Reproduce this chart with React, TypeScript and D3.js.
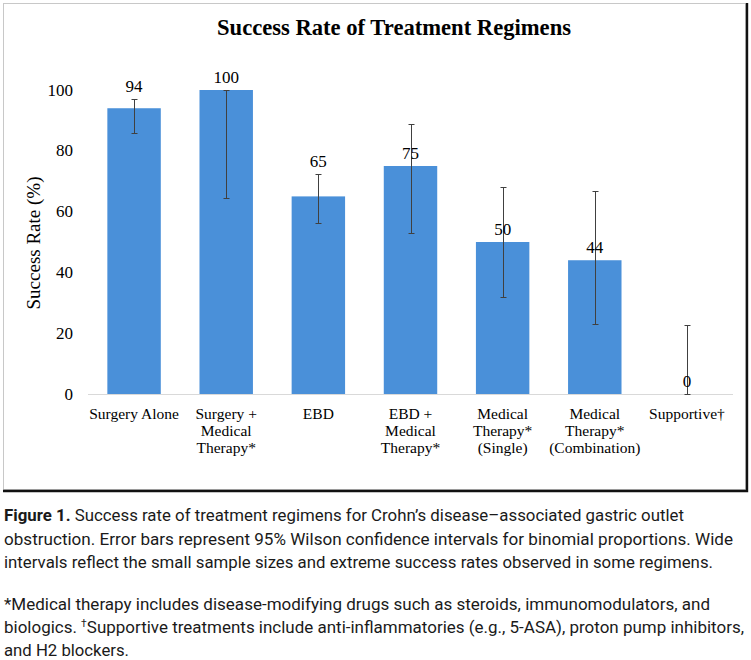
import React, { useRef, useEffect } from 'react';
import * as d3 from 'd3';

// success rate per regimen (%), with 95% Wilson interval bounds
const regimens = [
  "Surgery Alone",
  "Surgery +\nMedical\nTherapy*",
  "EBD",
  "EBD +\nMedical\nTherapy*",
  "Medical\nTherapy*\n(Single)",
  "Medical\nTherapy*\n(Combination)",
  "Supportive†"
];
const successRates = [94, 100, 65, 75, 50, 44, 0];
const ciLower = [86, 64.5, 56.3, 53, 32, 23, 0];
const ciUpper = [97, 100, 72.3, 88.8, 68, 66.8, 22.7];
const yTicks = [0, 20, 40, 60, 80, 100];

const captionLines = [
  { bold: "Figure 1.", text: " Success rate of treatment regimens for Crohn’s disease–associated gastric outlet", width: 680 },
  { text: "obstruction. Error bars represent 95% Wilson confidence intervals for binomial proportions. Wide", width: 729 },
  { text: "intervals reflect the small sample sizes and extreme success rates observed in some regimens.", width: 709 },
  { text: "*Medical therapy includes disease-modifying drugs such as steroids, immunomodulators, and", width: 706 },
  { text: "biologics. †Supportive treatments include anti-inflammatories (e.g., 5-ASA), proton pump inhibitors,", width: 740 },
  { text: "and H2 blockers.", width: 125 }
];
const captionBaselines = [521, 544.5, 567.5, 609.5, 632.5, 655.5];

const W = 751, H = 660;
const serif = "'Liberation Serif', 'Times New Roman', serif";
const sans = "Roboto, 'Noto Sans', sans-serif";

const App = () => {
  const ref = useRef(null);

  useEffect(() => {
    const svg = d3.select(ref.current);
    svg.selectAll("*").remove();

    svg.append("rect").attr("width", W).attr("height", H).attr("fill", "#fff");

    // frame around the chart, with a dark edge on the right and bottom
    svg.append("rect")
      .attr("x", 3.5).attr("y", 3.5).attr("width", 742).attr("height", 486)
      .attr("fill", "none").attr("stroke", "#c8c8c8");
    svg.append("path")
      .attr("d", "M747,3 V491 H3")
      .attr("fill", "none").attr("stroke", "#111").attr("stroke-width", 2.4);

    const x = d3.scaleBand().domain(regimens).range([88, 733]).paddingInner(0.42).paddingOuter(0.21);
    const y = d3.scaleLinear().domain([0, 100]).range([394, 90]);

    svg.append("text")
      .attr("x", 394).attr("y", 35)
      .attr("text-anchor", "middle")
      .attr("font-family", serif).attr("font-weight", "bold").attr("font-size", 24)
      .attr("textLength", 354).attr("lengthAdjust", "spacingAndGlyphs")
      .text("Success Rate of Treatment Regimens");

    // y tick labels only, no gridlines
    svg.append("g").selectAll("text").data(yTicks).join("text")
      .attr("x", 73).attr("y", d => y(d)).attr("dy", "0.33em")
      .attr("text-anchor", "end")
      .attr("font-family", serif).attr("font-size", 17)
      .text(d => d);

    svg.append("text")
      .attr("transform", `translate(40,${243}) rotate(-90)`)
      .attr("text-anchor", "middle")
      .attr("font-family", serif).attr("font-size", 19)
      .text("Success Rate (%)");

    svg.append("g").selectAll("rect").data(regimens).join("rect")
      .attr("x", d => x(d))
      .attr("y", (d, i) => y(successRates[i]))
      .attr("width", x.bandwidth())
      .attr("height", (d, i) => y(0) - y(successRates[i]))
      .attr("fill", "#4a90d9");

    svg.append("line")
      .attr("x1", 88).attr("x2", 733).attr("y1", y(0) + 0.5).attr("y2", y(0) + 0.5)
      .attr("stroke", "#d9d9d9");

    // error bars
    const eb = svg.append("g").attr("stroke", "#404040").attr("stroke-width", 1).attr("fill", "none");
    regimens.forEach((r, i) => {
      const cx = Math.round(x(r) + x.bandwidth() / 2) + 0.5;
      const y0 = Math.round(y(ciLower[i])) + 0.5;
      const y1 = Math.round(y(ciUpper[i])) + 0.5;
      eb.append("path").attr("d", `M${cx},${y0}V${y1}M${cx - 3},${y1}H${cx + 3}M${cx - 3},${y0}H${cx + 3}`);
    });

    // value labels sit above the cap when it is close to the bar top
    svg.append("g").selectAll("text").data(regimens).join("text")
      .attr("x", d => x(d) + x.bandwidth() / 2)
      .attr("y", (d, i) => {
        const v = successRates[i];
        const ref = ciUpper[i] - v < 10 ? ciUpper[i] : v;
        return y(ref) - 7;
      })
      .attr("text-anchor", "middle")
      .attr("font-family", serif).attr("font-size", 17)
      .text((d, i) => successRates[i]);

    // category labels
    const cat = svg.append("g").selectAll("text").data(regimens).join("text")
      .attr("x", d => x(d) + x.bandwidth() / 2)
      .attr("y", 418.5)
      .attr("text-anchor", "middle")
      .attr("font-family", serif).attr("font-size", 15.5);
    cat.selectAll("tspan").data(d => d.split("\n")).join("tspan")
      .attr("x", function () { return d3.select(this.parentNode).attr("x"); })
      .attr("dy", (d, i) => (i === 0 ? 0 : 17.3))
      .text(d => d);

    // caption, with the bold figure number and the raised dagger
    captionLines.forEach((c, i) => {
      const t = svg.append("text")
        .attr("x", 4).attr("y", captionBaselines[i])
        .attr("font-family", sans).attr("font-size", 16.5).attr("fill", "#1a1a1a")
        .attr("textLength", c.width).attr("lengthAdjust", "spacingAndGlyphs");
      if (c.bold) {
        t.append("tspan").attr("font-weight", "bold").text(c.bold);
        t.append("tspan").text(c.text);
      } else if (c.text.includes("†")) {
        const [a, b] = c.text.split("†");
        t.append("tspan").text(a);
        t.append("tspan").attr("font-size", 10).attr("dy", -6).text("†");
        t.append("tspan").attr("dy", 6).text(b);
      } else {
        t.text(c.text);
      }
    });
  }, []);

  return (
    <svg ref={ref} width={W} height={H} style={{ position: 'absolute', left: 0, top: 0 }} />
  );
};

export default App;
